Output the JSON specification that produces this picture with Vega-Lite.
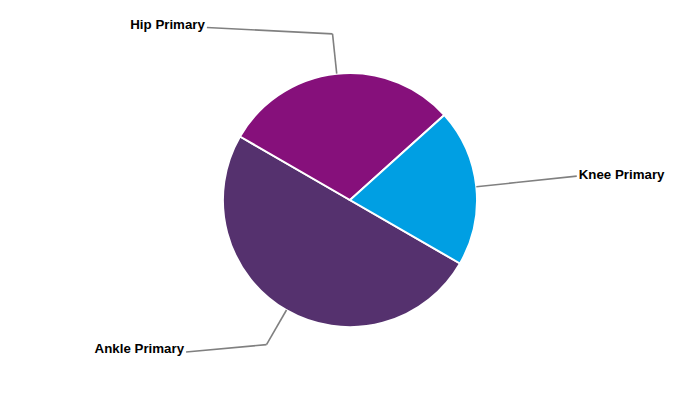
{
  "$schema": "https://vega.github.io/schema/vega-lite/v6.json",
  "width": 700,
  "height": 400,
  "autosize": {"type": "fit", "contains": "padding"},
  "padding": 0,
  "background": "white",
  "config": {"view": {"stroke": null}},
  "data": {"values": [
    {"part": "Ankle Primary", "value": 50},
    {"part": "Hip Primary", "value": 30},
    {"part": "Knee Primary", "value": 20}
  ]},
  "layer": [
    {
      "mark": {"type": "arc", "outerRadius": 127, "stroke": "white", "strokeWidth": 2},
      "encoding": {
        "theta": {"field": "value", "type": "quantitative", "stack": true, "scale": {"range": [2.0944, 8.3776]}},
        "color": {"field": "part", "type": "nominal", "legend": null,
          "scale": {"domain": ["Ankle Primary", "Hip Primary", "Knee Primary"], "range": ["#55316E", "#86107B", "#009FE3"]}},
        "order": {"field": "part", "type": "ordinal", "sort": "ascending"}
      }
    },
    {
      "transform": [
        {"joinaggregate": [{"op": "sum", "field": "value", "as": "total"}]},
        {"window": [{"op": "sum", "field": "value", "as": "cum"}], "sort": [{"field": "part", "order": "ascending"}], "frame": [null, 0]},
        {"calculate": "(120 + (datum.cum - datum.value / 2) / datum.total * 360) * PI / 180", "as": "mid"},
        {"calculate": "sin(datum.mid)", "as": "s"},
        {"calculate": "cos(datum.mid)", "as": "c"},
        {"calculate": "127 * datum.s", "as": "ex"},
        {"calculate": "127 * datum.c", "as": "ey"},
        {"calculate": "167 * datum.s", "as": "bx"},
        {"calculate": "167 * datum.c", "as": "by"},
        {"calculate": "clamp(228 * datum.c, -152, 172.5)", "as": "ly"},
        {"calculate": "(datum.s < 0 ? -1 : 1) * (sqrt(228 * 228 - datum.ly * datum.ly) - (datum.s < 0 ? 6 : 0))", "as": "lx"}
      ],
      "layer": [
        {
          "mark": {"type": "rule", "color": "#808080", "strokeWidth": 1.6},
          "encoding": {
            "x": {"field": "ex", "type": "quantitative", "axis": null, "scale": {"domain": [-350, 350], "nice": false, "zero": false}},
            "y": {"field": "ey", "type": "quantitative", "axis": null, "scale": {"domain": [-200, 200], "nice": false, "zero": false}},
            "x2": {"field": "bx"},
            "y2": {"field": "by"}
          }
        },
        {
          "mark": {"type": "rule", "color": "#808080", "strokeWidth": 1.6},
          "encoding": {
            "x": {"field": "bx", "type": "quantitative", "axis": null, "scale": {"domain": [-350, 350], "nice": false, "zero": false}},
            "y": {"field": "by", "type": "quantitative", "axis": null, "scale": {"domain": [-200, 200], "nice": false, "zero": false}},
            "x2": {"field": "lx"},
            "y2": {"field": "ly"}
          }
        },
        {
          "transform": [{"filter": "datum.s > 0"}],
          "mark": {"type": "text", "align": "left", "baseline": "middle", "dx": 2, "dy": -1, "font": "Liberation Sans", "fontWeight": "bold", "fontSize": 13.3, "color": "#000000"},
          "encoding": {
            "x": {"field": "lx", "type": "quantitative", "axis": null, "scale": {"domain": [-350, 350], "nice": false, "zero": false}},
            "y": {"field": "ly", "type": "quantitative", "axis": null, "scale": {"domain": [-200, 200], "nice": false, "zero": false}},
            "text": {"field": "part", "type": "nominal"}
          }
        },
        {
          "transform": [{"filter": "datum.s < 0"}],
          "mark": {"type": "text", "align": "right", "baseline": "middle", "dx": -2, "dy": -3, "font": "Liberation Sans", "fontWeight": "bold", "fontSize": 13.3, "color": "#000000"},
          "encoding": {
            "x": {"field": "lx", "type": "quantitative", "axis": null, "scale": {"domain": [-350, 350], "nice": false, "zero": false}},
            "y": {"field": "ly", "type": "quantitative", "axis": null, "scale": {"domain": [-200, 200], "nice": false, "zero": false}},
            "text": {"field": "part", "type": "nominal"}
          }
        }
      ]
    }
  ]
}
